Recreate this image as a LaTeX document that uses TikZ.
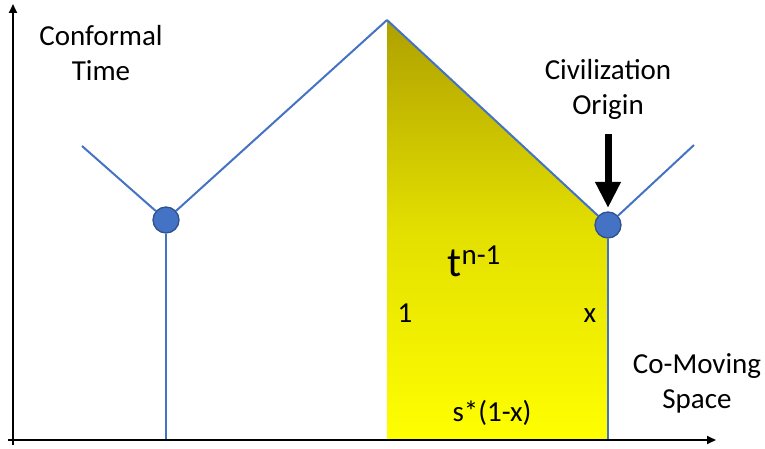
\documentclass[tikz,border=0pt]{standalone}
\usepackage{fontspec}
\setmainfont{Carlito}
\usetikzlibrary{arrows.meta}
\definecolor{lineblue}{HTML}{4472C4}
\definecolor{darkblue}{HTML}{2F528F}
\definecolor{olive}{HTML}{AFA000}
\definecolor{midyel}{HTML}{E3DF00}
\begin{document}
\begin{tikzpicture}[x=1pt,y=-1pt,
  wl/.style={draw=lineblue,line width=2pt},
  dot/.style={circle,fill=lineblue,draw=darkblue,line width=1.3pt,minimum size=26pt,inner sep=0pt},
  axis/.style={draw=black,line width=1.8pt,-{Triangle[length=9pt,width=8pt]}},
  lbl/.style={font=\fontsize{29}{35}\selectfont,align=center,text=black,inner sep=0pt}]
\useasboundingbox (0,0) rectangle (765,449);
% named points
\coordinate (apex) at (387,20);
\coordinate (ltip) at (82,146);
\coordinate (rtip) at (694,145);
\coordinate (lfoot) at (166,440);
\coordinate (rfoot) at (608,440);
\coordinate (yfoot) at (387,440);
\coordinate (yo) at (13,445);
\coordinate (ytop) at (13,4);
\coordinate (xo) at (8,440);
\coordinate (xend) at (716,440);
\coordinate (ashaft) at (608,134);
\coordinate (ahead) at (608,208);
% yellow region
\fill[top color=olive,bottom color=yellow,middle color=midyel]
  (apex) -- (608,225) -- (rfoot) -- (yfoot) -- cycle;
\draw[lineblue,line width=1pt] (yfoot) -- (rfoot);
% circles
\node[dot] (lc) at (166,220) {};
\node[dot] (rc) at (608,225) {};
% worldlines
\draw[wl] (ltip) -- (lc);
\draw[wl] (lc) -- (apex);
\draw[wl] (apex) -- (rc);
\draw[wl] (rc) -- (rtip);
\draw[wl] (lc) -- (lfoot);
\draw[wl] (rc) -- (rfoot);
% axes
\draw[axis] (yo) -- (ytop);
\draw[axis] (xo) -- (xend);
% big arrow
\draw[line width=7pt,-{Triangle[length=26pt,width=24pt]}] (ashaft) -- (ahead);
% labels
\node[lbl] (ct) at (101,53) {Conformal\\Time};
\node[lbl] (co) at (608,89) {Civilization\\Origin};
\node[lbl] (cm) at (697,383) {Co-Moving\\Space};
\node[lbl,anchor=base] (tn) at (474,276) {{\fontsize{42}{42}\selectfont t}\raisebox{12pt}{n-1}};
\node[lbl] (one) at (405,313) {1};
\node[lbl] (xx) at (590,316) {x};
\node[lbl] (sx) at (492,413) {s*(1-x)};
\end{tikzpicture}
\end{document}
